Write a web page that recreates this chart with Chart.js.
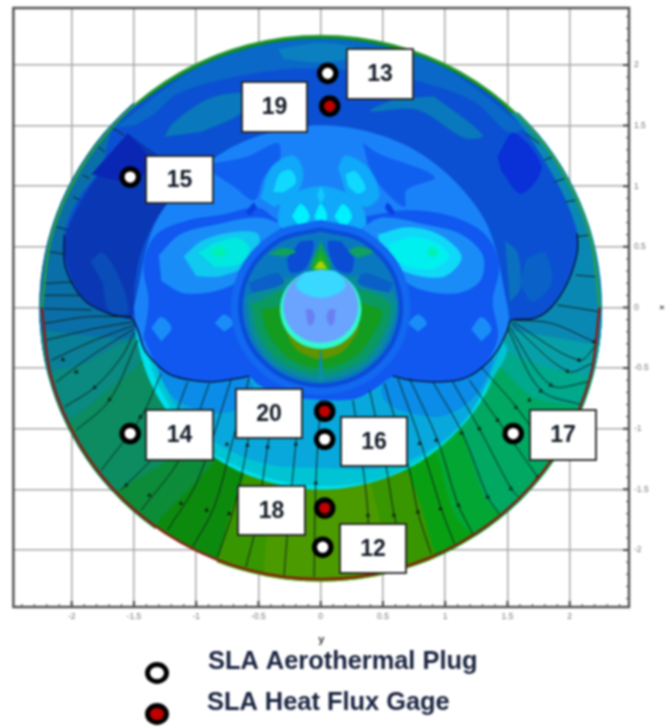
<!DOCTYPE html>
<html>
<head>
<meta charset="utf-8">
<style>
  html, body { margin: 0; padding: 0; background: #fff; }
  canvas { display: block; filter: blur(0.85px); }
</style>
<script src="https://cdn.jsdelivr.net/npm/chart.js@4"></script>
</head>
<body>
<canvas id="chart" width="667" height="727"></canvas>
<script>
// ---- Axis values ----
const tickValues = [-2, -1.5, -1, -0.5, 0, 0.5, 1, 1.5, 2];
const xRange = [-2.468, 2.476];
const yRange = [-2.47, 2.469];

// ---- Sensors ----
const plugX = [0.056, -1.53, -1.53, 0.032, 0.016, 1.546];
const plugY = [1.93, 1.075, -1.04, -1.087, -1.977, -1.04];
const gageX = [0.072, 0.032, 0.032];
const gageY = [1.66, -0.856, -1.654];
const discRadius = 2.24;

// ---- Contour outlines [x, y] ----
const disc = [[2.24,0],[2.164,.58],[1.94,1.12],[1.584,1.584],[1.12,1.94],[.58,2.164],[0,2.24],[-.58,2.164],[-1.12,1.94],[-1.584,1.584],[-1.94,1.12],[-2.164,.58],[-2.24,0],[-2.164,-.58],[-1.94,-1.12],[-1.584,-1.584],[-1.12,-1.94],[-.58,-2.164],[0,-2.24],[.58,-2.164],[1.12,-1.94],[1.584,-1.584],[1.94,-1.12],[2.164,-.58],[2.24,0]];
const rimTop = [[2.24,0],[2.164,.58],[1.94,1.12],[1.584,1.584],[1.12,1.94],[.58,2.164],[0,2.24],[-.58,2.164],[-1.12,1.94],[-1.584,1.584],[-1.94,1.12],[-2.164,.58],[-2.24,0]];
const rimBottom = [[-2.24,0],[-2.164,-.58],[-1.94,-1.12],[-1.584,-1.584],[-1.12,-1.94],[-.58,-2.164],[0,-2.24],[.58,-2.164],[1.12,-1.94],[1.584,-1.584],[1.94,-1.12],[2.164,-.58],[2.24,0]];
const upperRing = [[2.215,0],[2.14,.573],[1.918,1.108],[1.566,1.566],[1.108,1.918],[.573,2.14],[0,2.215],[-.573,2.14],[-1.108,1.918],[-1.566,1.566],[-1.918,1.108],[-2.14,.573],[-2.215,0]];

const leftGreen = [[-.855,-1.27],[-1.04,-1.48],[-1.28,-1.73],[-1.4,-1.9],[-2.4,-1.9],[-2.4,-.3],[-1.3,-.6]];
const leftSea = [[-1,-1.05],[-1.22,-1.25],[-1.55,-1.45],[-1.75,-1.55],[-2.4,-1.55],[-2.4,-.3],[-1.3,-.5]];
const leftTeal = [[-2.4,-1.05],[-2.03,-.93],[-1.68,-.655],[-1.415,-.41],[-1.35,-.1],[-2.4,-.1]];
const leftTeal2 = [[-2.4,-.6],[-2.16,-.52],[-1.9,-.46],[-1.63,-.3],[-1.47,-.215],[-1.4,1.6],[-2.4,1.6]];
const leftTeal3 = [[-2.4,-.2],[-2.22,-.19],[-1.76,-.24],[-1.5,-.215],[-1.4,1.6],[-2.4,1.6]];
const rightGreen = [[.65,-1.3],[.9,-2.3],[2.4,-2.3],[2.4,-.5],[1.3,-.7]];
const rightGreen2 = [[.9,-1.1],[1.2,-1.85],[2.4,-1.9],[2.4,-.4],[1.4,-.5]];
const rightSea = [[1.127,-1.01],[1.447,-1.7],[2.4,-1.7],[2.4,-.3],[1.4,-.4]];
const rightTeal = [[1.42,-.46],[1.71,-.74],[2.09,-.82],[2.4,-.95],[2.4,-.2],[1.5,-.2]];
const rightTeal2 = [[1.47,-.35],[1.75,-.47],[2.17,-.57],[2.4,-.6],[2.4,-.1],[1.5,-.1]];
const rightTeal3 = [[1.53,-.19],[1.85,-.24],[2.2,-.3],[2.4,-.3],[2.4,1.6],[1.5,1.6]];
const oliveOuter = [[-.6,-1.35],[-.75,-1.8],[-.8,-2.3],[.9,-2.3],[.85,-1.8],[.7,-1.35]];
const oliveInner = [[-.35,-1.4],[-.4,-2.3],[.5,-2.3],[.4,-1.4]];

const windEdge = [[0,1.5],[.75,1.299],[1.299,.75],[1.5,0],[1.299,-.75],[.75,-1.299],[0,-1.5],[-.75,-1.299],[-1.299,-.75],[-1.5,0],[-1.299,.75],[-.75,1.299],[0,1.5]];
const windCyan = [[-1.42,-.25],[-1.3,-.65],[-1,-1.1],[-.5,-1.38],[0,-1.47],[.5,-1.4],[1,-1.1],[1.3,-.7],[1.47,-.3],[0,0]];
const windSky = [[-1.3,-.3],[-1.2,-.75],[-.83,-1.12],[-.43,-1.29],[0,-1.32],[.51,-1.32],[.91,-1.15],[1.18,-.9],[1.36,-.55],[1.42,-.25],[0,0]];
const windBlueR = [[.5,-.5],[.51,-.76],[.73,-.87],[.99,-.89],[1.23,-.74],[1.37,-.49],[1.4,-.3]];
const windBlueL = [[-1.37,-.35],[-1.2,-.72],[-.95,-.85],[-.7,-.85],[-.55,-.7],[-.6,-.5]];

const lee = [[-1.52,-.09],[-1.68,-.06],[-1.9,.06],[-2.05,.33],[-2.06,.6],[-1.95,.885],[-1.76,1.16],[-1.66,1.48],[-1.4,1.72],[-1,1.97],[-.5,2.15],[0,2.21],[.5,2.15],[1,1.97],[1.4,1.72],[1.62,1.48],[1.795,1.21],[1.955,.91],[2.06,.61],[2.06,.45],[1.98,.2],[1.85,0],[1.715,-.09],[1.53,-.105],[1.5,-.187],[1.42,-.352],[1.287,-.504],[1.127,-.594],[.913,-.614],[.727,-.6],[.58,-.567],[.433,-.669],[.272,-.75],[0,-.757],[-.294,-.724],[-.507,-.628],[-.574,-.567],[-.72,-.594],[-.88,-.614],[-1.04,-.6],[-1.2,-.558],[-1.31,-.476],[-1.416,-.352],[-1.47,-.21],[-1.52,-.09]];
const topBand = [[-1.5,1.5],[-1.335,1.6],[-1.15,1.765],[-.7,1.9],[-.21,1.97],[.3,1.95],[.75,1.875],[1.23,1.7],[1.5,1.45],[1.62,1.48],[1,1.97],[.5,2.15],[0,2.21],[-.5,2.15],[-1,1.97],[-1.66,1.48]];
const topPatch = [[-.34,2.13],[0,2.18],[.3,2.13],[.25,2.06],[0,2.02],[-.3,2.05]];
const tealPatchL = [[-1.255,1.408],[-1.175,1.53],[-.855,1.737],[-.534,1.752],[-.64,1.6],[-.96,1.449]];
const tealPatchR = [[.91,1.74],[1.3,1.42],[1.15,1.4],[.78,1.63],[.4,1.62],[.6,1.72]];
const lobeLeft = [[-1.55,1.435],[-1.76,1.13],[-1.92,.885],[-2.05,.57],[-2.03,.335],[-1.9,.07],[-1.68,-.05],[-1.52,-.08],[-1.495,.2],[-1.44,.47],[-1.31,.75],[-1.15,.96],[-1.05,1.1],[-1.3,1.25]];
const lobeLeftDark = [[-1.55,1.435],[-1.39,1.24],[-1.42,1.1],[-1.6,1.05],[-1.84,1.1]];
const lobeLeftLight = [[-1.85,.38],[-1.75,.45],[-1.6,.2],[-1.55,-.05],[-1.7,-.03],[-1.75,.2]];
const lobeRightDark = [[1.42,1.24],[1.55,1.435],[1.77,1.16],[1.61,.94],[1.45,1.13]];
const lobeRightLight = [[1.65,.4],[1.8,.45],[1.85,.2],[1.7,.05],[1.6,.2]];
const lobeRightStrip = [[1.48,.55],[1.58,.45],[1.6,.15],[1.52,.05]];

const leeInner = [[-1.5,0],[-1.299,.75],[-.75,1.299],[0,1.5],[.75,1.299],[1.299,.75],[1.5,0],[1.5,-.187],[1.42,-.352],[1.287,-.504],[1.127,-.594],[.913,-.614],[.727,-.6],[.58,-.567],[.433,-.669],[.272,-.75],[0,-.757],[-.294,-.724],[-.507,-.628],[-.574,-.567],[-.72,-.594],[-.88,-.614],[-1.04,-.6],[-1.2,-.558],[-1.31,-.476],[-1.416,-.352],[-1.47,-.21],[-1.5,0]];
const leeMid = [[-1.42,-.25],[-1.38,.05],[-1.42,.35],[-1.32,.6],[-1.05,.72],[-.8,.76],[-.5,.82],[-.3,.7],[.35,.75],[.7,.8],[1.05,.75],[1.32,.6],[1.43,.35],[1.38,.05],[1.42,-.25],[1.287,-.504],[1.127,-.594],[.913,-.614],[.727,-.6],[.58,-.567],[.433,-.669],[.272,-.75],[0,-.757],[-.294,-.724],[-.507,-.628],[-.574,-.567],[-.72,-.594],[-.88,-.614],[-1.04,-.6],[-1.2,-.558],[-1.31,-.476],[-1.42,-.25]];
const upperMidL = [[-.855,1.188],[-.588,1.243],[-.347,1.353],[-.334,1.215],[-.454,1.078],[-.534,.885],[-.694,.995],[-.855,1.105]];
const upperMidR = [[.339,1.353],[.459,1.27],[.913,1.077],[.687,.967],[.673,.83],[.486,.995],[.379,1.187]];
const upperSkyL = [[-.48,.9],[-.4,1.15],[-.22,1.25],[-.14,1.1],[-.22,.9],[-.38,.83]];
const upperCyanL = [[-.38,.95],[-.33,1.1],[-.24,1.13],[-.2,1.03],[-.3,.95]];
const upperSkyR = [[.14,1.15],[.2,1.25],[.38,1.15],[.47,.92],[.36,.83],[.2,.95]];
const upperCyanR = [[.2,1.1],[.28,1.12],[.36,.98],[.3,.94],[.22,1]];
const centerBand = [[-.35,.66],[-.3,.88],[0,1],[.3,.88],[.35,.66],[0,.62]];
const dotLeft = [[-.23,.75],[-.16,.85],[-.09,.75],[-.16,.65]];
const dotMid = [[-.05,.75],[0,.85],[.05,.75],[0,.65]];
const dotRight = [[.11,.75],[.18,.85],[.25,.75],[.18,.65]];
const dotUp = [[-.03,.92],[0,.99],[.03,.92],[0,.85]];
const speckL = [[-.6,.78],[-.54,.86],[-.52,.82],[-.57,.76]];
const speckR = [[.6,.78],[.54,.86],[.52,.82],[.57,.76]];
const sideOuterL = [[-1.3,.43],[-1.13,.6],[-.85,.68],[-.5,.74],[-.33,.66],[-.55,.3],[-.8,.15],[-1.1,.12],[-1.28,.22]];
const sideMidL = [[-1.1,.42],[-.95,.55],[-.7,.62],[-.5,.6],[-.55,.38],[-.8,.26],[-1,.26]];
const sideInnerL = [[-.98,.45],[-.85,.53],[-.66,.57],[-.57,.48],[-.65,.36],[-.85,.33]];
const sideCoreL = [[-.88,.45],[-.82,.5],[-.75,.46],[-.82,.41]];
const sideOuterR = [[.33,.66],[.5,.74],[.85,.68],[1.13,.6],[1.3,.43],[1.28,.22],[1.1,.12],[.8,.15],[.55,.3]];
const sideMidR = [[.46,.6],[.7,.66],[.95,.6],[1.13,.42],[1,.26],[.75,.27],[.5,.38]];
const sideInnerR = [[.55,.52],[.75,.58],[.95,.52],[1.03,.42],[.9,.32],[.7,.34],[.55,.42]];
const sideCoreR = [[.85,.45],[.89,.5],[.95,.45],[.89,.41]];
const lowSpotA = [[-1.36,-.17],[-1.28,-.08],[-1.2,-.17],[-1.28,-.28]];
const lowSpotB = [[-.85,-.13],[-.775,-.06],[-.7,-.13],[-.775,-.2]];
const lowSpotC = [[.7,-.13],[.78,-.06],[.85,-.13],[.78,-.2]];
const lowSpotD = [[1.21,-.18],[1.29,-.08],[1.37,-.18],[1.29,-.28]];

const haloRing = [[0,.72],[.36,.624],[.624,.36],[.72,0],[.624,-.36],[.36,-.624],[0,-.72],[-.36,-.624],[-.624,-.36],[-.72,0],[-.624,.36],[-.36,.624],[0,.72]];
const midCircle = [[0,.66],[.33,.572],[.572,.33],[.66,0],[.572,-.33],[.33,-.572],[0,-.66],[-.33,-.572],[-.572,-.33],[-.66,0],[-.572,.33],[-.33,.572],[0,.66]];
const midInner = [[0,.625],[.312,.541],[.541,.312],[.625,0],[.541,-.312],[.312,-.541],[0,-.625],[-.312,-.541],[-.541,-.312],[-.625,0],[-.541,.312],[-.312,.541],[0,.625]];
const midTeal = [[-.6,.08],[-.55,-.22],[-.37,-.47],[0,-.6],[.37,-.47],[.55,-.22],[.6,.08],[.38,.24],[-.38,.24]];
const midSea = [[-.56,.02],[-.5,-.22],[-.33,-.44],[0,-.55],[.33,-.44],[.5,-.22],[.56,.02],[.33,.14],[-.33,.14]];
const midGreen = [[-.48,-.02],[-.42,-.22],[-.26,-.41],[0,-.5],[.26,-.41],[.42,-.22],[.48,-.02],[0,.08]];
const midOlive = [[-.3,-.14],[-.2,-.34],[-.04,-.42],[.04,-.42],[.2,-.34],[.3,-.14],[0,-.2]];
const midSlit = [[0,-.33],[.02,-.6],[-.02,-.6],[0,-.33]];
const wedgeL = [[-.17,.54],[-.06,.54],[-.12,.33],[-.24,.29],[-.27,.4]];
const wedgeR = [[.17,.54],[.06,.54],[.12,.33],[.24,.29],[.27,.4]];
const stripeL = [[-.58,.2],[-.35,.28],[-.3,.2],[-.55,.12]];
const stripeR = [[.58,.2],[.35,.28],[.3,.2],[.55,.12]];
const greenSpotL = [[-.42,.44],[-.3,.49],[-.2,.46],[-.3,.42]];
const greenSpotR = [[.22,.46],[.3,.5],[.42,.46],[.3,.41]];
const spikeOuter = [[0,.54],[-.08,.32],[.08,.32],[0,.54]];
const spikeInner = [[0,.46],[-.055,.32],[.055,.32],[0,.46]];
const spikeTip = [[-.05,.32],[0,.38],[.05,.32]];
const noseRim = [[0,.31],[.163,.267],[.282,.148],[.325,-.015],[.282,-.178],[.163,-.297],[0,-.34],[-.163,-.297],[-.282,-.178],[-.325,-.015],[-.282,.148],[-.163,.267],[0,.31]];
const noseFill = [[0,.31],[.15,.27],[.26,.16],[.3,.01],[.26,-.14],[.15,-.25],[0,-.29],[-.15,-.25],[-.26,-.14],[-.3,.01],[-.26,.16],[-.15,.27],[0,.31]];
const noseCap = [[-.13,.29],[-.2,.18],[-.14,.12],[0,.08],[.14,.12],[.2,.18],[.13,.29],[0,.31]];
const noseLobeL = [[-.12,-.02],[-.07,-.02],[-.05,-.09],[-.08,-.15],[-.11,-.12]];
const noseLobeR = [[.12,-.02],[.07,-.02],[.05,-.09],[.08,-.15],[.11,-.12]];

// ---- Streamlines and separation line ----
const hatchLeft = [
  [[-1.67,1.477],[-1.576,1.42]], [[-1.79,1.325],[-1.736,1.284]], [[-1.91,1.09],[-1.856,1.064]],
  [[-1.99,.913],[-1.936,.885]], [[-2.123,.665],[-2.03,.638]], [[-2.177,.459],[-2.057,.44]],
  [[-2.23,.197],[-1.99,.21]], [[-2.23,.1],[-1.936,.1]], [[-2.217,-.01],[-1.843,-.02]],
];
const hatchRight = [
  [[1.648,1.435],[1.755,1.35]], [[1.795,1.215],[1.86,1.24]], [[1.875,1.035],[1.96,1.063]],
  [[1.97,.871],[2.05,.885]], [[2.06,.583],[2.155,.596]], [[2.05,.266],[2.22,.253]], [[1.9,.02],[2.25,-.036]],
];
const streamLeft = [
  [[-2.217,-.132],[-1.87,-.077],[-1.522,-.077]],
  [[-2.204,-.27],[-1.816,-.174],[-1.509,-.119]],
  [[-2.163,-.435],[-1.816,-.27],[-1.496,-.146]],
  [[-2.123,-.614],[-1.816,-.38],[-1.496,-.174]],
  [[-2.057,-.82],[-1.816,-.66],[-1.6,-.41],[-1.496,-.2]],
  [[-1.963,-1.012],[-1.696,-.765],[-1.469,-.27]],
  [[-1.763,-1.343],[-1.442,-.903],[-1.282,-.545]],
  [[-1.603,-1.507],[-1.282,-1.15],[-1.068,-.614]],
  [[-1.442,-1.672],[-1.122,-1.232],[-.895,-.627]],
  [[-1.229,-1.837],[-.988,-1.425],[-.721,-.6]],
  [[-1.028,-1.975],[-.855,-1.645],[-.721,-1.15],[-.574,-.578]],
  [[-.828,-2.058],[-.694,-1.645],[-.588,-1.122],[-.534,-.683]],
  [[-.601,-2.14],[-.521,-1.81],[-.427,-1.15],[-.347,-.71]],
  [[-.294,-2.209],[-.267,-1.865],[-.2,-1.122],[-.16,-.765]],
  [[-.053,-2.223],[-.04,-1.452],[0,-.765]],
];
const streamRight = [
  [[.259,-.765],[.339,-1.315],[.379,-1.7],[.387,-2.14]],
  [[.393,-.682],[.526,-1.315],[.593,-1.727],[.686,-2.085]],
  [[.513,-.627],[.713,-1.342],[.78,-1.686],[.887,-2.03]],
  [[.62,-.586],[.807,-1.122],[.967,-1.659],[1.074,-1.947]],
  [[.713,-.586],[.94,-1.095],[1.1,-1.617],[1.22,-1.865]],
  [[.9,-.614],[1.14,-1.04],[1.341,-1.562],[1.434,-1.7]],
  [[1.06,-.614],[1.274,-1],[1.528,-1.494],[1.587,-1.562]],
  [[1.194,-.6],[1.421,-.93],[1.742,-1.397]],
  [[1.288,-.49],[1.581,-.834],[1.848,-1.232]],
  [[1.5,-.173],[1.768,-.682],[2.102,-.806]],
  [[1.514,-.16],[1.848,-.641],[2.155,-.613]],
  [[1.528,-.132],[1.982,-.526],[2.182,-.462]],
  [[1.541,-.119],[2.075,-.435],[2.222,-.297]],
  [[1.555,-.105],[1.85,-.13],[2.196,-.284]],
];
const sepLeft = [[-2.06,.6],[-2.05,.33],[-1.9,.06],[-1.68,-.06],[-1.52,-.09],[-1.46,-.21],[-1.416,-.35],[-1.31,-.476],[-1.2,-.558],[-1.04,-.6],[-.88,-.614],[-.72,-.594],[-.574,-.567]];
const sepRight = [[.58,-.567],[.727,-.6],[.913,-.614],[1.127,-.594],[1.287,-.504],[1.42,-.352],[1.5,-.187],[1.53,-.105],[1.715,-.09],[1.85,0],[1.98,.2],[2.06,.45],[2.06,.61]];
const arrowX = [-2.07,-1.963,-1.816,-1.696,-1.563,-1.376,-1.122,-.916,-.735,-.753,-.588,-.427,-.2,-.04,-1.448,.379,.588,.78,.962,1.106,1.341,1.528,1.742,1.568,1.675,1.768,1.848,1.982,2.075,2.196,1.421,1.274,1.132,.927,.793];
const arrowY = [-.43,-.531,-.66,-.759,-1.466,-1.549,-1.617,-1.672,-1.7,-1.128,-1.136,-1.15,-1.128,-1.447,-.902,-1.714,-1.714,-1.686,-1.659,-1.631,-1.562,-1.494,-1.397,-.825,-.765,-.688,-.641,-.526,-.435,-.284,-.93,-.999,-1.035,-1.095,-1.122];

// ---- Painter order: first entry lies at the bottom ----
const fills = [
  ['#0c8a0e', disc], ['#0a7cb0', upperRing],
  ['#0c8c38', leftGreen], ['#0c8c60', leftSea], ['#0a8a80', leftTeal], ['#0a7f98', leftTeal2], ['#0a6fa8', leftTeal3],
  ['#08a012', rightGreen], ['#02a632', rightGreen2], ['#00a862', rightSea], ['#00a88c', rightTeal], ['#08a0a8', rightTeal2], ['#0a88b4', rightTeal3],
  ['#389600', oliveOuter], ['#4b9a00', oliveInner],
  ['#00e0ee', windEdge], ['#00c4d4', windCyan], ['#08a8dc', windSky], ['#0a8ce8', windBlueR], ['#0a8ce8', windBlueL],
  ['#0b50d2', lee], ['#0a68c8', topBand], ['#0a80c0', topPatch], ['#0a78bc', tealPatchL], ['#0a78bc', tealPatchR],
  ['#0a38b4', lobeLeft], ['#0a26b4', lobeLeftDark], ['#0a4cb8', lobeLeftLight],
  ['#0a30d8', lobeRightDark], ['#0a62c8', lobeRightLight], ['#0a70c0', lobeRightStrip],
  ['#1a82f8', leeInner], ['#1058f0', leeMid], ['#1060f0', upperMidL], ['#1060f0', upperMidR],
  ['#10a8f8', upperSkyL], ['#10d8ff', upperCyanL], ['#10a8f8', upperSkyR], ['#10d8ff', upperCyanR],
  ['#10a8f8', centerBand], ['#00f0ff', dotLeft], ['#00f0ff', dotMid], ['#00f0ff', dotRight], ['#10c8ff', dotUp],
  ['#0a40e0', speckL], ['#0a40e0', speckR],
  ['#1a8cf8', sideOuterL], ['#10c8f0', sideMidL], ['#00e8e0', sideInnerL], ['#00f0b0', sideCoreL],
  ['#1a8cf8', sideOuterR], ['#10d8f8', sideMidR], ['#00f0f0', sideInnerR], ['#00f0b8', sideCoreR],
  ['#1a8cf8', lowSpotA], ['#1a8cf8', lowSpotB], ['#1a8cf8', lowSpotC], ['#1a8cf8', lowSpotD],
  ['#1268f0', haloRing], ['#0a4cd8', midCircle], ['#0a78c0', midInner], ['#0a8c98', midTeal], ['#0a9a60', midSea],
  ['#149c20', midGreen], ['#609400', midOlive], ['#0a90a0', midSlit],
  ['#0a4cd4', wedgeL], ['#0a4cd4', wedgeR], ['#0a60c8', stripeL], ['#0a60c8', stripeR],
  ['#10a060', greenSpotL], ['#10a060', greenSpotR],
  ['#10a050', spikeOuter], ['#20b020', spikeInner], ['#b0d000', spikeTip],
  ['#30f8d0', noseRim], ['#6aa4ff', noseFill], ['#38d8ff', noseCap], ['#6a80f0', noseLobeL], ['#6a80f0', noseLobeR],
];

const toPoints = list => list.map(([x, y]) => ({ x, y }));
const fillSet = ([color, outline]) => ({
  data: toPoints(outline), showLine: true, fill: 'shape', tension: 0.33,
  backgroundColor: color, borderColor: color, borderWidth: 0.5, pointRadius: 0,
});
const lineSet = (outline, color, width) => ({
  data: toPoints(outline), showLine: true, fill: false, tension: 0.33,
  borderColor: color, borderWidth: width, pointRadius: 0,
});
const markerSet = (xs, ys, face) => ({
  data: xs.map((x, i) => ({ x, y: ys[i] })), showLine: false,
  pointRadius: 8.2, pointBorderWidth: 5.2, pointBackgroundColor: face, pointBorderColor: '#000',
});

const painted = [
  ...fills.map(fillSet),
  ...[...hatchLeft, ...hatchRight, ...streamLeft, ...streamRight].map(s => lineSet(s, '#10241c', 1)),
  lineSet(sepLeft, '#06122c', 1.3),
  lineSet(sepRight, '#06122c', 1.3),
  {
    data: arrowX.map((x, i) => ({ x, y: arrowY[i] })), showLine: false,
    pointStyle: 'triangle', pointRadius: 2.6, pointBackgroundColor: '#0a1a14', pointBorderWidth: 0,
  },
  lineSet(rimTop, '#2e9e3c', 2.2),
  lineSet(rimBottom, '#8c1c10', 2.4),
  markerSet(plugX, plugY, '#ffffff'),
  markerSet(gageX, gageY, '#c00000'),
];

// ---- Overlays: frame, inward ticks, call-out boxes, key ----
const callouts = [
  ['13', 347, 49, 66, 50], ['19', 242, 82, 65, 50], ['15', 146, 156, 67, 47], ['14', 146, 410, 67, 50],
  ['20', 236, 389, 66, 49], ['16', 341, 417, 66, 49], ['18', 238, 486, 67, 49], ['12', 340, 524, 66, 49], ['17', 530, 410, 66, 50],
];
const keyRows = [
  ['SLA Aerothermal Plug', 208, 669, 157, 673, '#ffffff'],
  ['SLA Heat Flux Gage', 207, 710, 157, 714, '#c00000'],
];
const plotTop = 8;

const overlay = {
  id: 'overlay',
  // the layout leaves the plot a little low, so pin its top edge
  afterLayout(chart) {
    const y = chart.scales.y;
    const bottom = chart.chartArea.bottom;
    chart.chartArea.top = plotTop;
    chart.chartArea.height = bottom - plotTop;
    y.top = plotTop;
    y.height = bottom - plotTop;
    y.configure();
  },
  beforeDatasetsDraw(chart) {
    const { ctx, scales: { x, y } } = chart;
    const rx = x.getPixelForValue(discRadius + 0.02) - x.getPixelForValue(0);
    const ry = y.getPixelForValue(0) - y.getPixelForValue(discRadius + 0.02);
    ctx.save();
    ctx.beginPath();
    ctx.ellipse(x.getPixelForValue(0), y.getPixelForValue(0), rx, ry, 0, 0, Math.PI * 2);
    ctx.clip();
  },
  afterDatasetsDraw(chart) {
    const { ctx, chartArea: a, scales: { x, y } } = chart;
    ctx.restore();

    // minor ticks every 0.1, major every 0.5, bottom and right only
    ctx.strokeStyle = '#444';
    for (let i = -24; i <= 24; i++) {
      const major = i % 5 === 0 && Math.abs(i) <= 20;
      const len = major ? 6 : 3;
      ctx.lineWidth = major ? 2 : 1;
      const px = x.getPixelForValue(i / 10);
      const py = y.getPixelForValue(i / 10);
      ctx.beginPath();
      ctx.moveTo(px, a.bottom);
      ctx.lineTo(px, a.bottom - len);
      ctx.moveTo(a.right, py);
      ctx.lineTo(a.right - len, py);
      ctx.stroke();
    }
    ctx.strokeStyle = '#505050';
    ctx.lineWidth = 2.4;
    ctx.strokeRect(a.left, a.top, a.right - a.left, a.bottom - a.top);

    // call-out boxes
    ctx.textAlign = 'center';
    ctx.textBaseline = 'middle';
    ctx.font = 'bold 23px "Liberation Sans"';
    for (const [text, bx, by, bw, bh] of callouts) {
      ctx.fillStyle = '#fff';
      ctx.strokeStyle = '#222';
      ctx.lineWidth = 1.8;
      ctx.fillRect(bx, by, bw, bh);
      ctx.strokeRect(bx, by, bw, bh);
      ctx.fillStyle = '#141c28';
      ctx.fillText(text, bx + bw / 2, by + bh / 2 + 1);
    }

    // key below the plot
    ctx.textAlign = 'left';
    ctx.textBaseline = 'alphabetic';
    ctx.font = 'bold 25.4px "Liberation Sans"';
    for (const [text, tx, ty, mx, my, face] of keyRows) {
      ctx.fillStyle = '#1a2440';
      ctx.fillText(text, tx, ty);
      ctx.beginPath();
      ctx.ellipse(mx, my, 9.5, 8.5, 0, 0, Math.PI * 2);
      ctx.fillStyle = face;
      ctx.fill();
      ctx.lineWidth = 5;
      ctx.strokeStyle = '#000';
      ctx.stroke();
    }
  },
};

const axisGrid = { color: '#a8a8a8', lineWidth: 1.5, drawTicks: false };
const tickFont = { family: '"Liberation Sans"', size: 8.5 };

new Chart(document.getElementById('chart'), {
  type: 'scatter',
  data: { datasets: painted.reverse() },
  plugins: [overlay],
  options: {
    responsive: false,
    animation: false,
    events: [],
    layout: { padding: { left: 12, top: 8, right: 0, bottom: 80 } },
    plugins: { legend: { display: false }, tooltip: { enabled: false } },
    scales: {
      x: {
        type: 'linear', min: xRange[0], max: xRange[1], position: 'bottom',
        afterBuildTicks: s => { s.ticks = tickValues.map(value => ({ value })); },
        afterFit: s => { s.height = 40; },
        grid: axisGrid, border: { display: false },
        ticks: { color: '#777', font: tickFont, padding: 5, autoSkip: false, maxRotation: 0, callback: v => String(v) },
        title: { display: true, text: 'y', color: '#333', font: { family: '"Liberation Sans"', size: 11, weight: 'bold' }, padding: 0 },
      },
      y: {
        type: 'linear', min: yRange[0], max: yRange[1], position: 'right',
        afterBuildTicks: s => { s.ticks = tickValues.map(value => ({ value })); },
        afterFit: s => { s.width = 38; },
        grid: axisGrid, border: { display: false },
        ticks: { color: '#777', font: tickFont, padding: 5, autoSkip: false, callback: v => String(v) },
        title: { display: true, text: 'x', color: '#333', font: { family: '"Liberation Sans"', size: 8, weight: 'bold' }, padding: 0 },
      },
    },
  },
});
</script>
</body>
</html>
